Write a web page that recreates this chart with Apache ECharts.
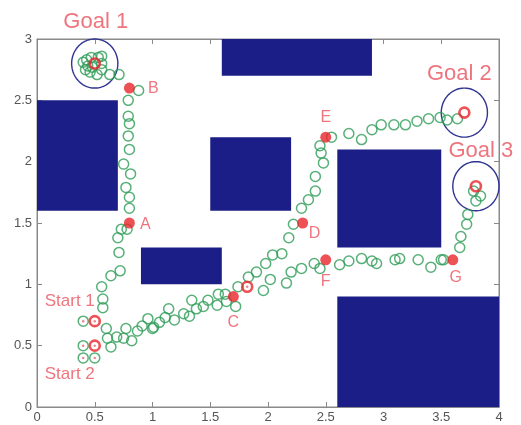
<!DOCTYPE html>
<html>
<head>
<meta charset="utf-8">
<script src="https://cdn.jsdelivr.net/npm/echarts@6/dist/echarts.min.js"></script>
<style>
  html, body { margin: 0; padding: 0; background: #fff; }
  #chart { width: 521px; height: 425px; }
</style>
</head>
<body>
<div id="chart"></div>
<script>
// obstacles: [x0, y0, x1, y1]
const obstacles = [
  [0, 1.6, 0.7, 2.5],
  [1.6, 2.7, 2.9, 3],
  [1.5, 1.6, 2.2, 2.2],
  [0.9, 1.0, 1.6, 1.3],
  [2.6, 1.3, 3.5, 2.1],
  [2.6, 0, 4, 0.9]
];
const goalNames = ['Goal 1', 'Goal 2', 'Goal 3'];
const goals = [[0.5, 2.8], [3.7, 2.4], [3.8, 1.8]];
const goalRadius = 0.2;
const startNames = ['Start 1', 'Start 2'];
const starts = [[0.5, 0.7], [0.5, 0.5]];
const startCandidates = [[0.4, 0.7], [0.4, 0.5], [0.4, 0.4], [0.5, 0.4]];
const waypointNames = ['A', 'B', 'C', 'D', 'E', 'F', 'G'];
const waypoints = [[0.8, 1.5], [0.8, 2.6], [1.7, 0.9], [2.3, 1.5], [2.5, 2.2], [2.5, 1.2], [3.6, 1.2]];
const midRing = [[1.82, 0.98]];

const pathToGoal1 = [
  [0.57, 0.81], [0.57, 0.88], [0.56, 0.98], [0.64, 1.07], [0.72, 1.11], [0.71, 1.26], [0.70, 1.38],
  [0.73, 1.45], [0.78, 1.45], [0.80, 1.62], [0.80, 1.71], [0.77, 1.79], [0.81, 1.90], [0.75, 1.98],
  [0.80, 2.10], [0.79, 2.21], [0.80, 2.31], [0.79, 2.37], [0.79, 2.50], [0.88, 2.58], [0.71, 2.71],
  [0.63, 2.71], [0.56, 2.75], [0.52, 2.71], [0.46, 2.73], [0.42, 2.75], [0.40, 2.81], [0.43, 2.83],
  [0.47, 2.85], [0.53, 2.85], [0.56, 2.86], [0.56, 2.80], [0.44, 2.78], [0.48, 2.77]
];
const pathToC = [
  [0.60, 0.64], [0.61, 0.56], [0.64, 0.49], [0.69, 0.57], [0.75, 0.56], [0.77, 0.64], [0.82, 0.54],
  [0.87, 0.62], [0.91, 0.66], [0.96, 0.72], [1.00, 0.64], [1.01, 0.65], [1.06, 0.69], [1.11, 0.73],
  [1.14, 0.80], [1.19, 0.71], [1.27, 0.76], [1.32, 0.74], [1.34, 0.87], [1.38, 0.80], [1.44, 0.82],
  [1.48, 0.87], [1.56, 0.83], [1.57, 0.92], [1.63, 0.92], [1.64, 0.86], [1.72, 0.82], [1.74, 0.98]
];
const pathToGoal2 = [
  [1.83, 1.06], [1.90, 1.10], [1.98, 1.17], [2.04, 1.24], [2.12, 1.25], [2.18, 1.38], [2.22, 1.49],
  [2.29, 1.62], [2.35, 1.69], [2.41, 1.76], [2.41, 1.88], [2.48, 1.99], [2.46, 2.07], [2.45, 2.13],
  [2.55, 2.20], [2.70, 2.23], [2.81, 2.18], [2.90, 2.26], [2.98, 2.30], [3.09, 2.30], [3.19, 2.30],
  [3.29, 2.33], [3.39, 2.35], [3.49, 2.36], [3.55, 2.34], [3.64, 2.35]
];
const pathToGoal3 = [
  [1.96, 0.95], [2.02, 1.04], [2.16, 1.01], [2.20, 1.10], [2.29, 1.13], [2.40, 1.17], [2.45, 1.13],
  [2.62, 1.16], [2.70, 1.19], [2.81, 1.21], [2.90, 1.19], [2.94, 1.17], [3.10, 1.20], [3.14, 1.21],
  [3.30, 1.20], [3.41, 1.14], [3.50, 1.20], [3.52, 1.20], [3.66, 1.30], [3.67, 1.39], [3.72, 1.49],
  [3.73, 1.57], [3.80, 1.68], [3.84, 1.72], [3.78, 1.76]
];
const xTicks = [0, 0.5, 1, 1.5, 2, 2.5, 3, 3.5, 4];
const yTicks = [0, 0.5, 1, 1.5, 2, 2.5, 3];

const navy = '#1b1e86';
const green = '#2e9c58';
const red = '#e8262c';
const labelRed = '#e9535e';
const font = 'Liberation Sans';

// label offsets in pixels, relative to the marker they belong to
const waypointOffsets = [[16, 2], [24, 1], [0, 26], [12, 11], [0, -20], [0, 22], [3, 18]];
const goalOffsets = [[1, -42], [-5, -39], [5, -35]];
const startOffsets = [[-25, -20], [-25, 29]];

const ringStyle = (color, w) => ({ color: 'transparent', borderColor: color, borderWidth: w });

const labelSeries = (names, pts, offsets, size) => ({
  type: 'scatter',
  silent: true,
  clip: false,
  symbolSize: 1,
  itemStyle: { color: 'transparent' },
  z: 10,
  data: pts.map((p, i) => ({
    value: p,
    label: {
      show: true,
      position: 'inside',
      offset: offsets[i],
      formatter: names[i],
      color: labelRed,
      fontSize: size,
      fontFamily: font
    }
  }))
});

const chart = echarts.init(document.getElementById('chart'));
const axisCommon = {
  type: 'value',
  splitLine: { show: false },
  axisLine: { show: true, onZero: false, lineStyle: { color: '#8a8a8a', width: 1 } },
  axisTick: { show: true, inside: true, length: 5, lineStyle: { color: '#8a8a8a' } }
};
chart.setOption({
  animation: false,
  grid: { left: 37, right: 22, top: 39, bottom: 18, show: true, borderColor: '#8a8a8a', borderWidth: 1 },
  xAxis: [
    Object.assign({}, axisCommon, {
      min: xTicks[0], max: xTicks[xTicks.length - 1], interval: 0.5, position: 'bottom',
      axisLabel: { color: '#555', fontSize: 13, fontFamily: font, margin: 4 }
    }),
    Object.assign({}, axisCommon, {
      min: xTicks[0], max: xTicks[xTicks.length - 1], interval: 0.5, position: 'top',
      axisLabel: { show: false }
    })
  ],
  yAxis: [
    Object.assign({}, axisCommon, {
      min: yTicks[0], max: yTicks[yTicks.length - 1], interval: 0.5, position: 'left',
      axisLabel: { color: '#555', fontSize: 13, fontFamily: font, margin: 5 }
    }),
    Object.assign({}, axisCommon, {
      min: yTicks[0], max: yTicks[yTicks.length - 1], interval: 0.5, position: 'right',
      axisLabel: { show: false }
    })
  ],
  series: [
    {
      type: 'custom',
      silent: true,
      z: 1,
      data: obstacles,
      renderItem: (params, api) => {
        const p0 = api.coord([api.value(0), api.value(3)]);
        const p1 = api.coord([api.value(2), api.value(1)]);
        return {
          type: 'rect',
          shape: { x: p0[0], y: p0[1], width: p1[0] - p0[0], height: p1[1] - p0[1] },
          style: { fill: navy }
        };
      }
    },
    {
      type: 'custom',
      silent: true,
      z: 2,
      data: goals,
      renderItem: (params, api) => {
        const cx = api.value(0), cy = api.value(1);
        const pts = [];
        for (let k = 0; k <= 90; k++) {
          const a = (k / 90) * Math.PI * 2;
          pts.push(api.coord([cx + goalRadius * Math.cos(a), cy + goalRadius * Math.sin(a)]));
        }
        return { type: 'polyline', shape: { points: pts }, style: { stroke: '#2f3590', lineWidth: 1.4, fill: null } };
      }
    },
    { type: 'scatter', z: 3, symbolSize: 10, itemStyle: ringStyle(green, 1.5), data: pathToGoal1 },
    { type: 'scatter', z: 3, symbolSize: 10, itemStyle: ringStyle(green, 1.5), data: pathToC },
    { type: 'scatter', z: 3, symbolSize: 10, itemStyle: ringStyle(green, 1.5), data: pathToGoal2 },
    { type: 'scatter', z: 3, symbolSize: 10, itemStyle: ringStyle(green, 1.5), data: pathToGoal3 },
    { type: 'scatter', z: 3, symbolSize: 10, itemStyle: ringStyle(green, 1.5), data: startCandidates },
    { type: 'scatter', z: 4, symbolSize: 11, itemStyle: { color: red }, data: waypoints },
    { type: 'scatter', z: 5, symbolSize: 10, itemStyle: ringStyle(red, 2.6), data: goals.concat(starts, midRing) },
    { type: 'scatter', z: 6, symbolSize: 2.5, itemStyle: { color: '#e36a72' }, data: starts.concat(startCandidates, midRing) },
    labelSeries(waypointNames, waypoints, waypointOffsets, 16),
    labelSeries(goalNames, goals, goalOffsets, 22),
    labelSeries(startNames, starts, startOffsets, 17)
  ]
});
</script>
</body>
</html>
